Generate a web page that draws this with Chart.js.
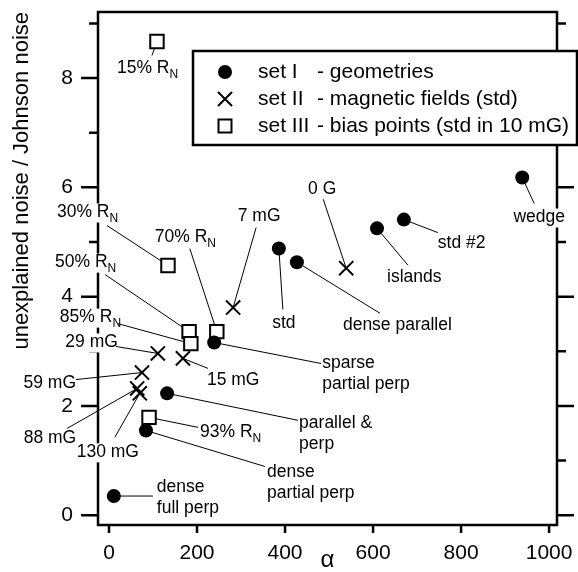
<!DOCTYPE html>
<html>
<head>
<meta charset="utf-8">
<script src="https://cdn.jsdelivr.net/npm/chart.js@4.4.1/dist/chart.umd.min.js"></script>
<style>
  html, body { margin: 0; padding: 0; background: #fff; }
  #wrap { width: 578px; height: 572px; }
</style>
</head>
<body>
<div id="wrap"><canvas id="noiseChart" width="578" height="572"></canvas></div>
<script>
// set I - geometries
const set1Alpha = [11, 84, 132, 239, 386, 427, 609, 670, 939];
const set1Noise = [0.35, 1.55, 2.23, 3.16, 4.88, 4.63, 5.25, 5.41, 6.18];
const set1Names = ['dense\nfull perp', 'dense\npartial perp', 'parallel &\nperp', 'sparse\npartial perp',
                   'std', 'dense parallel', 'islands', 'std #2', 'wedge'];

// set II - magnetic fields (std)
const set2Alpha = [539, 282, 168, 111, 75, 64, 70];
const set2Noise = [4.52, 3.80, 2.87, 2.96, 2.61, 2.32, 2.23];
const set2Names = ['0 G', '7 mG', '15 mG', '29 mG', '59 mG', '88 mG', '130 mG'];

// set III - bias points (std in 10 mG)
const set3Alpha = [109, 134, 182, 245, 186, 91];
const set3Noise = [8.67, 4.57, 3.36, 3.36, 3.14, 1.79];
const set3Names = ['15% R_N', '30% R_N', '50% R_N', '70% R_N', '85% R_N', '93% R_N'];

const xTicks = [0, 200, 400, 600, 800, 1000];
const yTicks = [0, 2, 4, 6, 8];
const yMinorTicks = [1, 3, 5, 7, 9];

// where each label sits, in px from its point: t = text anchor, l = end of the leader line
const labelLayout = {
  'dense\nfull perp':     { t: [43, -9],    l: [39, 0],    align: 'left' },
  'dense\npartial perp':  { t: [121, 42],   l: [119, 36],  align: 'left' },
  'parallel &\nperp':     { t: [132, 30],   l: [131, 27],  align: 'left' },
  'sparse\npartial perp': { t: [108, 21],   l: [107, 21],  align: 'left' },
  'std':                  { t: [5, 75],     l: [4, 61],    align: 'center' },
  'dense parallel':       { t: [46, 63],    l: [83, 51],   align: 'left' },
  'islands':              { t: [10, 49],    l: [31, 37],   align: 'left' },
  'std #2':               { t: [34, 24],    l: [34, 13],   align: 'left' },
  'wedge':                { t: [17, 40],    l: [12, 26],   align: 'center' },
  '0 G':                  { t: [-24, -79],  l: [-23, -69], align: 'center' },
  '7 mG':                 { t: [26, -91],   l: [23, -80],  align: 'center' },
  '15 mG':                { t: [24, 22],    l: [25, 10],   align: 'left' },
  '29 mG':                { t: [-40, -11],  l: [-42, -7],  align: 'right' },
  '59 mG':                { t: [-66, 11],   l: [-66, 7],   align: 'right' },
  '88 mG':                { t: [-61, 50],   l: [-70, 40],  align: 'right' },
  '130 mG':               { t: [-32, 59],   l: [-25, 44],  align: 'center' },
  '15% R_N':              { t: [-40, 27],   l: [-5, 14],   align: 'left' },
  '30% R_N':              { t: [-111, -53], l: [-61, -40], align: 'left' },
  '50% R_N':              { t: [-134, -69], l: [-84, -57], align: 'left' },
  '70% R_N':              { t: [-62, -94],  l: [-27, -83], align: 'left' },
  '85% R_N':              { t: [-131, -26], l: [-73, -20], align: 'left' },
  '93% R_N':              { t: [51, 15],    l: [49, 10],   align: 'left' }
};

const FONT = '"Liberation Sans", Arial, Helvetica, sans-serif';
Chart.defaults.font.family = FONT;
Chart.defaults.color = '#000';

const toPts = (xs, ys) => xs.map((v, i) => ({ x: v, y: ys[i] }));

// text with an optional "_N" subscript at the end
function splitSub(s) {
  const k = s.indexOf('_');
  return k < 0 ? [s, ''] : [s.slice(0, k), s.slice(k + 1)];
}
function labelWidth(ctx, s) {
  const [main, sub] = splitSub(s);
  ctx.font = '17.5px ' + FONT;
  let w = ctx.measureText(main).width;
  if (sub) { ctx.font = '12px ' + FONT; w += ctx.measureText(sub).width; }
  return w;
}
function drawLabelLine(ctx, s, x, y) {
  const [main, sub] = splitSub(s);
  ctx.font = '17.5px ' + FONT;
  ctx.fillText(main, x, y);
  if (sub) {
    const w = ctx.measureText(main).width;
    ctx.font = '12px ' + FONT;
    ctx.fillText(sub, x + w, y + 6);
  }
}

const annotate = {
  id: 'annotate',
  beforeDatasetsDraw(chart) {
    const { ctx, chartArea: a, scales: { x, y } } = chart;
    ctx.save();
    ctx.strokeStyle = '#000';
    ctx.lineWidth = 2.5;
    ctx.strokeRect(a.left, a.top, a.right - a.left, a.bottom - a.top);

    // outward ticks on left/right, short ones at odd values
    ctx.beginPath();
    yTicks.concat(yMinorTicks).forEach(v => {
      const py = y.getPixelForValue(v);
      const len = yTicks.includes(v) ? 17 : 9;
      ctx.moveTo(a.left - len, py); ctx.lineTo(a.left, py);
      ctx.moveTo(a.right, py); ctx.lineTo(a.right + len, py);
    });
    xTicks.forEach(v => {
      const px = x.getPixelForValue(v);
      ctx.moveTo(px, a.bottom); ctx.lineTo(px, a.bottom + 8);
    });
    ctx.stroke();

    const items = [];
    chart.data.datasets.forEach((ds, i) => {
      chart.getDatasetMeta(i).data.forEach((pt, j) => {
        const name = ds.names[j];
        items.push({ name, lay: labelLayout[name], px: pt.x, py: pt.y });
      });
    });

    // white boxes behind the labels (they cut the axis like in the print)
    ctx.fillStyle = '#fff';
    items.forEach(it => {
      it.name.split('\n').forEach((line, k) => {
        const w = labelWidth(ctx, line);
        const tx = it.px + it.lay.t[0];
        const ty = it.py + it.lay.t[1] + k * 21;
        const sx = it.lay.align === 'left' ? tx : it.lay.align === 'right' ? tx - w : tx - w / 2;
        ctx.fillRect(sx - 1, ty - 9, w + 2, 19);
      });
    });

    // leader lines
    ctx.lineWidth = 1;
    ctx.beginPath();
    items.forEach(it => {
      ctx.moveTo(it.px, it.py);
      ctx.lineTo(it.px + it.lay.l[0], it.py + it.lay.l[1]);
    });
    ctx.stroke();

    ctx.fillStyle = '#000';
    ctx.textAlign = 'left';
    ctx.textBaseline = 'middle';
    items.forEach(it => {
      it.name.split('\n').forEach((line, k) => {
        const w = labelWidth(ctx, line);
        const tx = it.px + it.lay.t[0];
        const ty = it.py + it.lay.t[1] + k * 21;
        const sx = it.lay.align === 'left' ? tx : it.lay.align === 'right' ? tx - w : tx - w / 2;
        drawLabelLine(ctx, line, sx, ty);
      });
    });
    ctx.restore();
  },
  afterDatasetsDraw(chart) {
    const { ctx, chartArea: a } = chart;
    const bx = a.left + 95, by = a.top + 39, bw = 384, bh = 94;
    ctx.save();
    ctx.fillStyle = '#fff';
    ctx.fillRect(bx, by, bw, bh);
    ctx.strokeStyle = '#000';
    ctx.lineWidth = 2.5;
    ctx.strokeRect(bx, by, bw, bh);

    const mx = bx + 32;
    const rows = [by + 21, by + 48, by + 75];
    ctx.fillStyle = '#000';
    ctx.beginPath(); ctx.arc(mx, rows[0], 7, 0, Math.PI * 2); ctx.fill();
    ctx.lineWidth = 2;
    ctx.beginPath();
    ctx.moveTo(mx - 7, rows[1] - 7); ctx.lineTo(mx + 7, rows[1] + 7);
    ctx.moveTo(mx + 7, rows[1] - 7); ctx.lineTo(mx - 7, rows[1] + 7);
    ctx.stroke();
    ctx.strokeRect(mx - 6.5, rows[2] - 6.5, 13, 13);

    ctx.font = '21px ' + FONT;
    ctx.textAlign = 'left';
    ctx.textBaseline = 'middle';
    const setNames = ['set I', 'set II', 'set III'];
    const setDesc = ['- geometries', '- magnetic fields (std)', '- bias points (std in 10 mG)'];
    setNames.forEach((s, i) => {
      ctx.fillText(s, bx + 65, rows[i]);
      ctx.fillText(setDesc[i], bx + 124, rows[i]);
    });
    ctx.restore();
  }
};

const noPad = s => { s.paddingTop = 0; s.paddingBottom = 0; s.paddingLeft = 0; s.paddingRight = 0; };

new Chart(document.getElementById('noiseChart'), {
  type: 'scatter',
  data: {
    datasets: [
      { label: 'set I - geometries', data: toPts(set1Alpha, set1Noise), names: set1Names,
        pointStyle: 'circle', pointRadius: 7, backgroundColor: '#000', borderColor: '#000', borderWidth: 0 },
      { label: 'set II - magnetic fields (std)', data: toPts(set2Alpha, set2Noise), names: set2Names,
        pointStyle: 'crossRot', pointRadius: 10, backgroundColor: '#000', borderColor: '#000', borderWidth: 2 },
      { label: 'set III - bias points (std in 10 mG)', data: toPts(set3Alpha, set3Noise), names: set3Names,
        pointStyle: 'rect', pointRadius: 9.5, backgroundColor: '#fff', borderColor: '#000', borderWidth: 2 }
    ]
  },
  options: {
    responsive: false,
    animation: false,
    layout: { padding: { top: 11, right: 21, left: 0, bottom: 0 } },
    plugins: { legend: { display: false }, tooltip: { enabled: false } },
    scales: {
      x: {
        type: 'linear', min: -25, max: 1018,
        afterBuildTicks: s => { s.ticks = xTicks.map(v => ({ value: v })); },
        afterFit: s => { s.height = 47; noPad(s); },
        grid: { display: false, drawTicks: true, tickLength: 8 },
        border: { display: false },
        ticks: { font: { size: 21 }, padding: 8, maxRotation: 0, autoSkip: false, callback: v => String(v) },
        title: { display: true, text: 'α', font: { size: 24, lineHeight: 1 }, padding: 0 }
      },
      y: {
        type: 'linear', min: -0.18, max: 9.21,
        afterBuildTicks: s => { s.ticks = yTicks.map(v => ({ value: v })); },
        afterFit: s => { s.width = 98; noPad(s); },
        grid: { display: false, drawTicks: true, tickLength: 17 },
        border: { display: false },
        ticks: { font: { size: 21 }, padding: 8, autoSkip: false, callback: v => String(v) },
        title: { display: true, text: 'unexplained noise / Johnson noise', align: 'end',
                 font: { size: 22 }, padding: { top: 9, bottom: 0 } }
      }
    }
  },
  plugins: [annotate]
});
</script>
</body>
</html>
